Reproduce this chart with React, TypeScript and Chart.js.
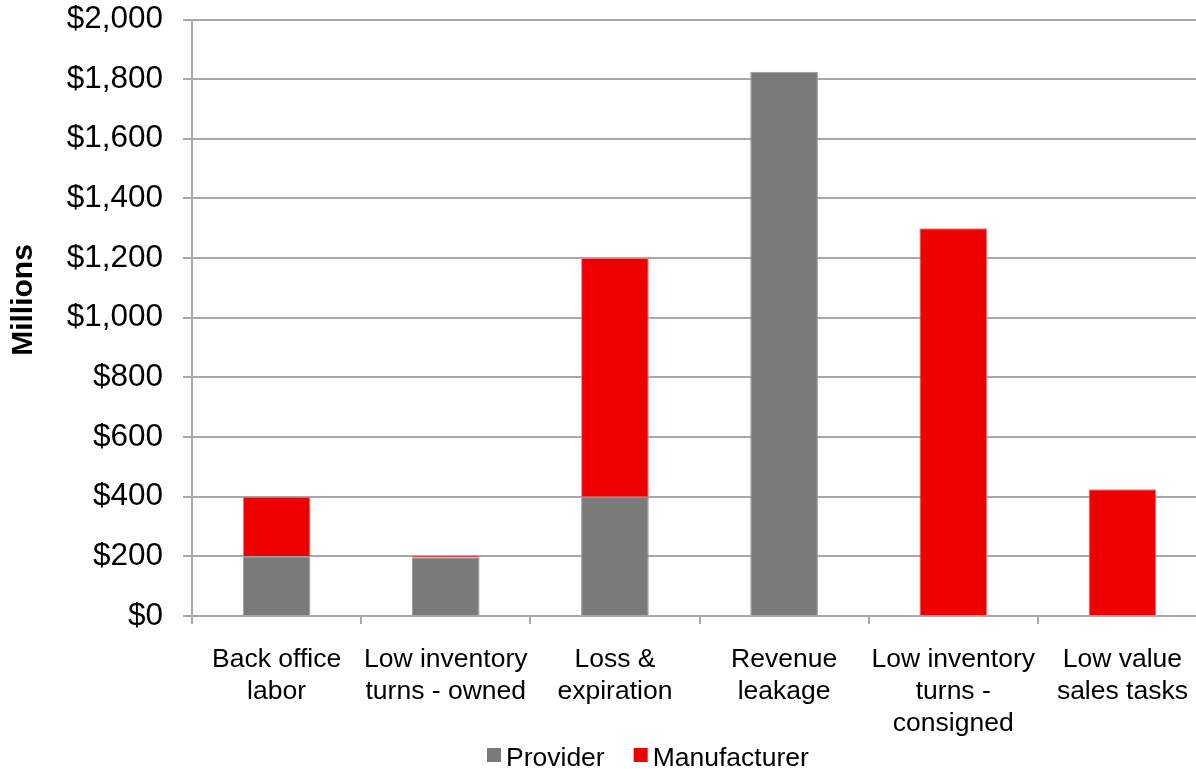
import React, { useEffect, useRef } from "react";
import { Chart, registerables } from "chart.js";

Chart.register(...registerables);

const categories: string[][] = [
  ["Back office", "labor"],
  ["Low inventory", "turns - owned"],
  ["Loss &", "expiration"],
  ["Revenue", "leakage"],
  ["Low inventory", "turns -", "consigned"],
  ["Low value", "sales tasks"],
];
const seriesNames = ["Provider", "Manufacturer"];
const providerValues = [200, 197, 400, 1825, 0, 0];
const manufacturerValues = [200, 5, 800, 0, 1300, 425];
const yMin = 0;
const yMax = 2000;
const yStep = 200;
const yTitle = "Millions";

const GRAY = "#7a7a7a";
const RED = "#ee0000";
const GRID = "#a8a8a8";
const FONT = "'Liberation Sans', Arial, sans-serif";

const W = 1215;
const H = 769;
const TOP = 19.5;
const BOTTOM = 616;

export default function App() {
  const ref = useRef<HTMLCanvasElement | null>(null);

  useEffect(() => {
    document.body.style.overflow = "hidden";
    const canvas = ref.current;
    if (!canvas) return;

    const titlePlugin = {
      id: "yTitleCustom",
      afterDraw(chart: any) {
        const ctx = chart.ctx;
        ctx.save();
        ctx.translate(24, 300);
        ctx.rotate(-Math.PI / 2);
        ctx.font = `bold 30px ${FONT}`;
        ctx.fillStyle = "#000";
        ctx.textAlign = "center";
        ctx.textBaseline = "middle";
        ctx.fillText(yTitle, 0, 0);
        ctx.restore();
      },
    };

    const legendPlugin = {
      id: "legendCustom",
      afterDraw(chart: any) {
        const ctx = chart.ctx;
        ctx.save();
        ctx.font = `26.5px ${FONT}`;
        ctx.textBaseline = "alphabetic";
        ctx.textAlign = "left";
        let x = 487;
        const boxTop = 748;
        const box = 14;
        chart.data.datasets.forEach((ds: any) => {
          ctx.fillStyle = ds.backgroundColor;
          ctx.fillRect(x, boxTop, box, box);
          const tx = x + box + 5;
          ctx.fillStyle = "#000";
          ctx.fillText(ds.label, tx, 766);
          x = tx + ctx.measureText(ds.label).width + 29;
        });
        ctx.restore();
      },
    };

    const chart = new Chart(canvas, {
      type: "bar",
      data: {
        labels: categories,
        datasets: [
          {
            label: seriesNames[0],
            data: providerValues,
            backgroundColor: GRAY,
            borderColor: "#9c9c9c",
            borderWidth: 1,
          },
          {
            label: seriesNames[1],
            data: manufacturerValues,
            backgroundColor: RED,
            borderColor: "#f27a7a",
            borderWidth: 1,
          },
        ],
      },
      options: {
        responsive: false,
        animation: false,
        devicePixelRatio: 1,
        layout: { padding: { left: 0, right: 8, top: TOP, bottom: 0 } },
        datasets: {
          bar: { barPercentage: 0.4, categoryPercentage: 1.0 },
        },
        plugins: {
          legend: { display: false },
          tooltip: { enabled: false },
        },
        scales: {
          x: {
            stacked: true,
            grid: {
              display: true,
              drawOnChartArea: false,
              drawTicks: true,
              tickLength: 8,
              color: GRID,
              lineWidth: 2,
              offset: true,
            },
            border: { display: true, color: GRID, width: 2 },
            ticks: {
              autoSkip: false,
              maxRotation: 0,
              minRotation: 0,
              color: "#000",
              padding: 20,
              font: { family: FONT, size: 26.5, lineHeight: 1.2 },
            },
            afterFit(scale: any) {
              scale.height = H - BOTTOM;
              scale.paddingLeft = 0;
              scale.paddingRight = 0;
            },
          },
          y: {
            stacked: true,
            min: yMin,
            max: yMax,
            ticks: {
              stepSize: yStep,
              color: "#000",
              padding: 20,
              font: { family: FONT, size: 31.5 },
              callback: (v: any) => "$" + Number(v).toLocaleString("en-US"),
            },
            grid: {
              color: GRID,
              lineWidth: 2,
              tickLength: 9,
              drawTicks: true,
            },
            border: { display: true, color: GRID, width: 2 },
            afterFit(scale: any) {
              scale.width = 192;
              scale.paddingTop = 0;
              scale.paddingBottom = 0;
            },
          },
        },
      },
      plugins: [titlePlugin, legendPlugin],
    } as any);

    return () => chart.destroy();
  }, []);

  return (
    <div style={{ position: "fixed", left: 0, top: 0, width: W, height: H, background: "#fff" }}>
      <canvas ref={ref} width={W} height={H} style={{ display: "block", width: W, height: H }} />
    </div>
  );
}
